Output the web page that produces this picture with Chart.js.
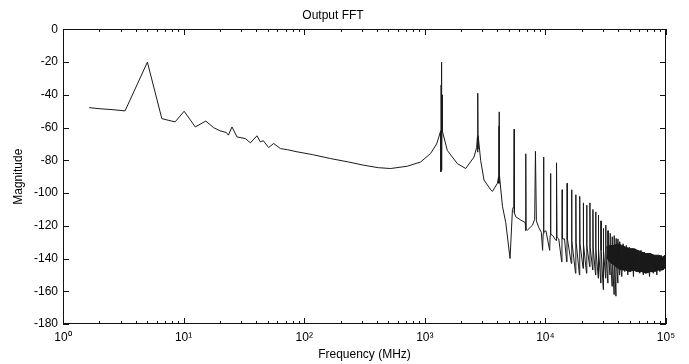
<!DOCTYPE html>
<html><head><meta charset="utf-8">
<script src="https://cdn.jsdelivr.net/npm/chart.js@4/dist/chart.umd.min.js"></script>
<style>html,body{margin:0;padding:0;background:#fff;} #wrap{width:689px;height:364px;}</style>
</head><body><div id="wrap"><canvas id="c" width="689" height="364"></canvas></div>
<script>
// ---- data ----
const freqMHz = [
  1.65, 2.03, 2.55, 3.27, 5.01, 6.6, 7.45, 8.51, 10.1, 12.5,
  15.3, 17.7, 20.1, 22.6, 23.5, 25.2, 27.7, 32.5, 35.8, 40.6,
  43.3, 45.8, 50.7, 55.8, 63.5, 72.5, 87.3, 117, 165, 233,
  312, 413, 520, 716, 923, 1117, 1253, 1309,
  1352, 1360, 1366, 1372, 1378, 1384, 1390, 1396,
  1538, 1862, 2183, 2559, 2693,
  2730, 2740, 2750, 2756, 2764, 2772,
  2905, 3096, 3518, 3636, 4003,
  4090, 4110, 4125, 4134, 4142, 4150,
  4404, 4690, 5093, 5330,
  5480, 5512, 5530, 5678, 6250,
  6800, 6860, 6890, 6920, 7102, 7814,
  8150, 8268, 8420, 8800, 9250,
  9480, 9580, 9646, 9720, 10100,
  10850, 10950, 11024, 11100, 11500,
  12250, 12330, 12402, 12480, 12900,
  13650, 13720, 13780, 13850, 14400,
  15020, 15100, 15158, 15220,
  16400, 16480, 16536, 16600,
  17780, 17860, 17914, 17980,
  19150, 19230, 19292, 19360,
  20540, 20620, 20670, 20730,
  21920, 22000, 22048, 22110,
  23300, 23380, 23426, 23490,
  24680, 24760, 24804, 24870,
  26050, 26140, 26182, 26240,
  27430, 27510, 27560, 27620,
  28800, 28890, 28938, 29000,
  30180, 30270, 30316, 30380,
  31560, 31650, 31694, 31750,
  32940, 33020, 33072, 33130,
  34320, 34400, 34450, 34510,
  35700, 35780, 35828, 35890,
  37080, 37160, 37206, 37270,
  38450, 38540, 38584, 38650,
  39830, 39910, 39962, 40020,
  41200, 41290, 41340, 41400,
  43000, 44100, 45500, 46900, 48200, 49600, 51000, 52400, 53700, 55100,
  56500, 57900, 60600, 62000, 64800, 66200, 69000, 70300, 73000, 74500,
  78500, 80000, 84000, 85500, 89000, 91000, 95000, 97000, 100000
];
const magnitude = [
  -47.8, -48.5, -49, -49.8, -20, -54.5, -55.5, -56.5, -50, -59.6,
  -56, -60, -62, -63, -64.6, -59.6, -65.7, -66.7, -69.3, -65,
  -68.7, -68, -72.2, -69.7, -72.8, -73.5, -74.8, -76.5, -78.9, -81,
  -83, -84.5, -85, -83.6, -81, -75.8, -70, -65.7,
  -62, -87, -34, -63, -20, -86, -40, -62,
  -74, -82, -85, -78, -72,
  -66, -75, -64, -39, -73, -65,
  -80, -92, -98, -99, -94,
  -90, -94, -59, -50.4, -94, -88,
  -108, -118, -140, -110,
  -108, -61, -112, -114.5, -116.5,
  -118, -123, -76, -122, -122.6, -119.6,
  -116, -74.5, -117, -121, -124,
  -135, -125, -78, -124, -123,
  -135, -126, -88, -125, -126,
  -129, -126, -81.5, -127, -128,
  -142, -128, -98, -128, -128,
  -142, -129, -94, -128,
  -143, -129, -98, -129,
  -149, -130, -101, -130,
  -150, -131, -102, -131,
  -146, -132, -106, -131,
  -149, -132, -107.4, -132,
  -145, -132, -106, -133,
  -147, -133, -110, -133,
  -150, -133, -111.5, -134,
  -152, -134, -113.5, -134,
  -155, -134, -117, -135,
  -159, -135, -121.6, -135,
  -152, -135, -119.6, -136,
  -155, -136, -123, -136,
  -150, -136, -124.6, -136,
  -157, -137, -126.7, -137,
  -162, -137, -126, -137,
  -163, -137, -127.7, -137,
  -155, -138, -128, -138,
  -150, -138, -129.7, -138,
  -151, -131, -148, -132, -150, -133, -147, -134, -151, -134,
  -148, -135, -149, -135, -150, -136, -148, -137, -151, -137,
  -149, -138, -150, -139, -148, -138, -147, -138, -142
];
// dense noise band at the high-frequency end (upper / lower envelope)
const bandFreq  = [32000, 34000, 37000, 40000, 43000, 46000, 50000, 54000, 58000, 63000, 68000, 74000, 80000, 87000, 94000, 100000];
const bandUpper = [-133, -132, -132, -131, -132, -133, -134, -134, -135, -136, -137, -137, -138, -138, -139, -138];
const bandLower = [-139, -142, -144, -146, -147, -147, -148, -147, -148, -148, -149, -148, -148, -147, -147, -145];

const xTickValues = [1, 10, 100, 1000, 10000, 100000];
const xTickLabels = ['10\u2070', '10\u00b9', '10\u00b2', '10\u00b3', '10\u2074', '10\u2075'];
const yTickValues = [0, -20, -40, -60, -80, -100, -120, -140, -160, -180];
const yTickLabels = ['0', '-20', '-40', '-60', '-80', '-100', '-120', '-140', '-160', '-180'];
const chartTitle = 'Output FFT';
const xTitle = 'Frequency (MHz)';
const yTitle = 'Magnitude';

// ---- drawing ----
const FONT = "'Liberation Sans', Arial, Helvetica, sans-serif";
const toPts = (xs, ys) => xs.map((x, i) => ({ x: x, y: ys[i] }));

const boxTicks = {
  id: 'boxTicks',
  afterDraw(chart) {
    const { ctx, chartArea: a, scales } = chart;
    const sx = scales.x, sy = scales.y;
    const L = Math.round(a.left), R = Math.round(a.right), T = Math.round(a.top), B = Math.round(a.bottom);
    ctx.save();
    ctx.strokeStyle = '#111';
    ctx.lineWidth = 1;
    ctx.strokeRect(L + 0.5, T + 0.5, R - L - 1, B - T - 1);
    ctx.beginPath();
    xTickValues.forEach((d) => {
      const px = Math.round(sx.getPixelForValue(d)) + 0.5;
      ctx.moveTo(px, B); ctx.lineTo(px, B - 6);
      ctx.moveTo(px, T); ctx.lineTo(px, T + 6);
      for (let k = 2; k <= 9; k++) {
        const v = d * k;
        if (v >= sx.max) break;
        const qx = Math.round(sx.getPixelForValue(v)) + 0.5;
        ctx.moveTo(qx, B); ctx.lineTo(qx, B - 3);
        ctx.moveTo(qx, T); ctx.lineTo(qx, T + 3);
      }
    });
    yTickValues.forEach((v) => {
      const py = Math.round(sy.getPixelForValue(v)) + 0.5;
      ctx.moveTo(L, py); ctx.lineTo(L + 6, py);
      ctx.moveTo(R, py); ctx.lineTo(R - 6, py);
    });
    ctx.stroke();
    ctx.restore();
  }
};

new Chart(document.getElementById('c'), {
  type: 'line',
  data: {
    datasets: [
      { label: 'FFT', data: toPts(freqMHz, magnitude), borderColor: '#1a1a1a', borderWidth: 1,
        pointRadius: 0, tension: 0, fill: false },
      { label: 'band upper', data: toPts(bandFreq, bandUpper), borderColor: '#111', borderWidth: 1,
        pointRadius: 0, tension: 0, fill: false },
      { label: 'band lower', data: toPts(bandFreq, bandLower), borderColor: '#111', borderWidth: 1,
        pointRadius: 0, tension: 0, fill: '-1', backgroundColor: 'rgba(15,15,15,0.95)' }
    ]
  },
  options: {
    responsive: false,
    animation: false,
    devicePixelRatio: 1,
    layout: { padding: { left: 0, right: 23, top: 0, bottom: 0 } },
    plugins: {
      legend: { display: false },
      tooltip: { enabled: false },
      title: { display: true, text: chartTitle, color: '#000',
        font: { family: FONT, size: 12, weight: 'normal' }, padding: { top: 8, bottom: 7 } }
    },
    scales: {
      x: {
        type: 'logarithmic', min: 1, max: 100000,
        grid: { display: false, drawTicks: false }, border: { display: false },
        afterBuildTicks: (s) => { s.ticks = xTickValues.map((v) => ({ value: v })); },
        afterFit: (s) => { s.height = 40; },
        ticks: { autoSkip: false, maxRotation: 0, minRotation: 0, padding: 6, color: '#000',
          font: { family: FONT, size: 12 },
          callback: (v) => { const i = xTickValues.indexOf(v); return i >= 0 ? xTickLabels[i] : ''; } },
        title: { display: true, text: xTitle, color: '#000', font: { family: FONT, size: 12 },
          padding: { top: 0, bottom: 2 } }
      },
      y: {
        type: 'linear', min: -180, max: 0,
        grid: { display: false, drawTicks: false }, border: { display: false },
        afterBuildTicks: (s) => { s.ticks = yTickValues.map((v) => ({ value: v })); },
        afterFit: (s) => { s.width = 63; },
        ticks: { padding: 5, color: '#000', font: { family: FONT, size: 12 },
          callback: (v) => { const i = yTickValues.indexOf(v); return i >= 0 ? yTickLabels[i] : ''; } },
        title: { display: true, text: yTitle, color: '#000', font: { family: FONT, size: 12 },
          padding: { top: 11, bottom: 0 } }
      }
    }
  },
  plugins: [boxTicks]
});
</script>
</body></html>
